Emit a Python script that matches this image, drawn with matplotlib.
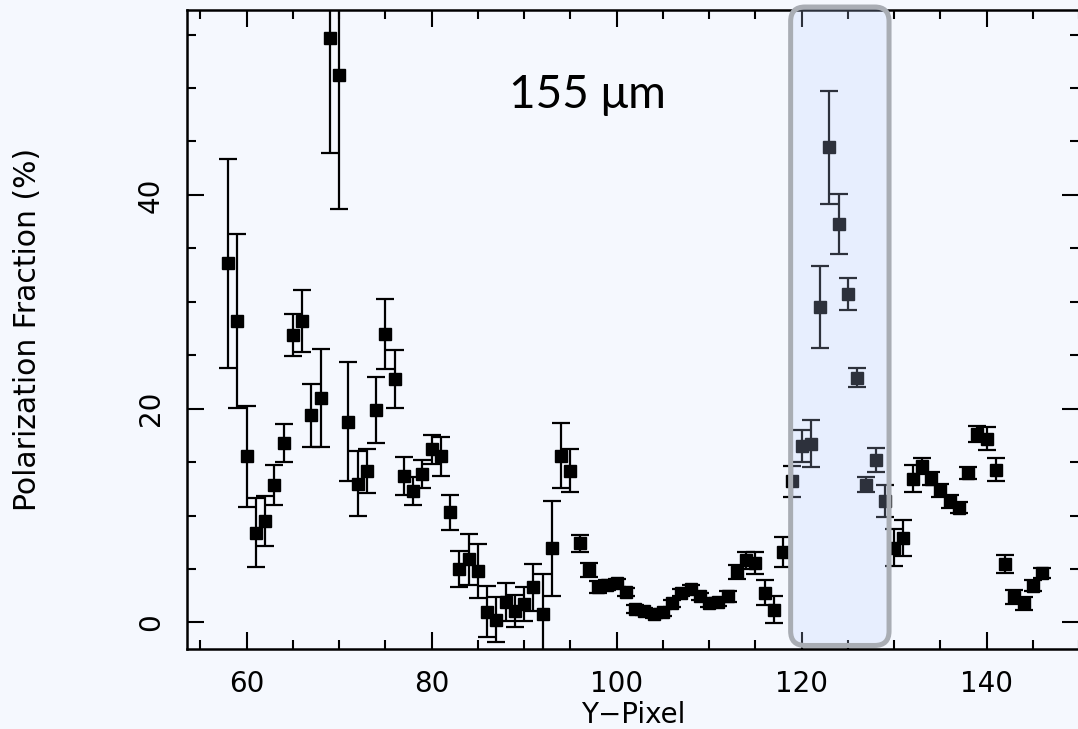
import numpy as np
import matplotlib
matplotlib.use("Agg")
import matplotlib.pyplot as plt
from matplotlib.patches import FancyBboxPatch
from matplotlib.ticker import MultipleLocator

# ---- data ----
ypix = list(range(58, 147))
pol = [33.6, 28.2, 15.55, 8.4, 9.5, 12.85, 16.8, 26.9, 28.2, 19.4,
       21.0, 54.7, 51.2, 18.8, 13.0, 14.2, 19.9, 27.0, 22.8, 13.7,
       12.3, 13.9, 16.2, 15.55, 10.3, 5.0, 5.9, 4.8, 1.0, 0.25,
       1.9, 1.05, 1.7, 3.3, 0.8, 6.95, 15.6, 14.2, 7.4, 4.9,
       3.3, 3.5, 3.7, 2.85, 1.25, 1.05, 0.8, 0.95, 1.8, 2.8,
       3.15, 2.45, 1.8, 1.9, 2.45, 4.75, 5.8, 5.55, 2.8, 1.2,
       6.6, 13.2, 16.5, 16.7, 29.5, 44.45, 37.3, 30.7, 22.9, 12.9,
       15.2, 11.35, 7.0, 7.9, 13.45, 14.6, 13.45, 12.35, 11.35, 10.75,
       14.0, 17.6, 17.2, 14.3, 5.45, 2.4, 1.8, 3.45, 4.65]
err = [9.8, 8.1, 4.7, 3.2, 2.3, 1.85, 1.8, 1.95, 2.9, 2.95,
       4.6, 10.8, 12.5, 5.6, 3.0, 2.05, 3.1, 3.3, 2.7, 1.8,
       1.35, 1.3, 1.35, 1.8, 1.65, 1.65, 2.4, 2.5, 2.4, 2.1,
       1.75, 1.5, 1.6, 2.2, 3.7, 4.45, 3.05, 2.0, 0.8, 0.68,
       0.55, 0.45, 0.4, 0.35, 0.35, 0.35, 0.35, 0.35, 0.35, 0.35,
       0.35, 0.35, 0.35, 0.35, 0.5, 0.65, 0.8, 1.0, 1.15, 1.25,
       1.4, 1.45, 1.5, 2.2, 3.85, 5.3, 2.8, 1.5, 0.9, 0.7,
       1.1, 1.5, 1.7, 1.7, 1.25, 0.75, 0.6, 0.6, 0.6, 0.55,
       0.55, 0.75, 1.1, 1.1, 0.85, 0.65, 0.6, 0.5, 0.45]
xticks = [60, 80, 100, 120, 140]
yticks = [0, 20, 40]
highlight = (118.82, 129.46)   # Y-pixel range of highlighted band
label_text = "155 μm"

BG = "#f5f8fe"
W, H = 1078, 729
fig = plt.figure(figsize=(W / 100, H / 100), dpi=100, facecolor=BG)
ax = fig.add_axes([187 / W, (H - 649) / H, (1079 - 187) / W, (649 - 10) / H])
ax.set_facecolor(BG)

ax.errorbar(ypix, pol, yerr=err, fmt="s", color="black", ms=8.8,
            ecolor="black", elinewidth=1.6, capsize=6.5, capthick=1.6, zorder=3)

ax.set_xlim(53.55, 150.0)
ax.set_ylim(-2.48, 57.3)

ax.set_xticks(xticks)
ax.set_yticks(yticks)
ax.xaxis.set_minor_locator(MultipleLocator(5))
ax.yaxis.set_minor_locator(MultipleLocator(5))
ax.tick_params(which="both", direction="in", top=True, right=True, width=1.5,
               color="black")
ax.tick_params(which="major", length=12.5)
ax.tick_params(which="minor", length=6.5)
ax.tick_params(axis="x", which="major", labelsize=20, pad=15)
ax.tick_params(axis="y", which="major", labelsize=20, pad=16, labelrotation=90)
for t in ax.get_yticklabels():
    t.set_va("center")
for s in ax.spines.values():
    s.set_linewidth(1.8)

ax.set_xlabel("Y\u2212Pixel", fontsize=20, labelpad=2)
ax.set_ylabel("Polarization Fraction (%)", fontsize=21.5)
ax.yaxis.set_label_coords((42 - 187) / (1079 - 187), 0.5)

# highlighted band (rounded box), drawn in pixel-consistent rounding
asp = (1 / 10.675) / (1 / 9.25)
box = FancyBboxPatch((highlight[0], -2.15), highlight[1] - highlight[0], 57.58 + 2.15,
                     boxstyle="round,pad=0,rounding_size=1.55", mutation_aspect=asp,
                     facecolor=(0.74, 0.82, 1.0, 0.24), edgecolor="#a9adb4",
                     linewidth=3.6, clip_on=False, zorder=5)
ax.add_patch(box)

fig.text(587 / W, (H - 108) / H, label_text, fontsize=33, family="Lato",
         ha="center", va="baseline")

fig.savefig("out.png", dpi=100, facecolor=BG)
